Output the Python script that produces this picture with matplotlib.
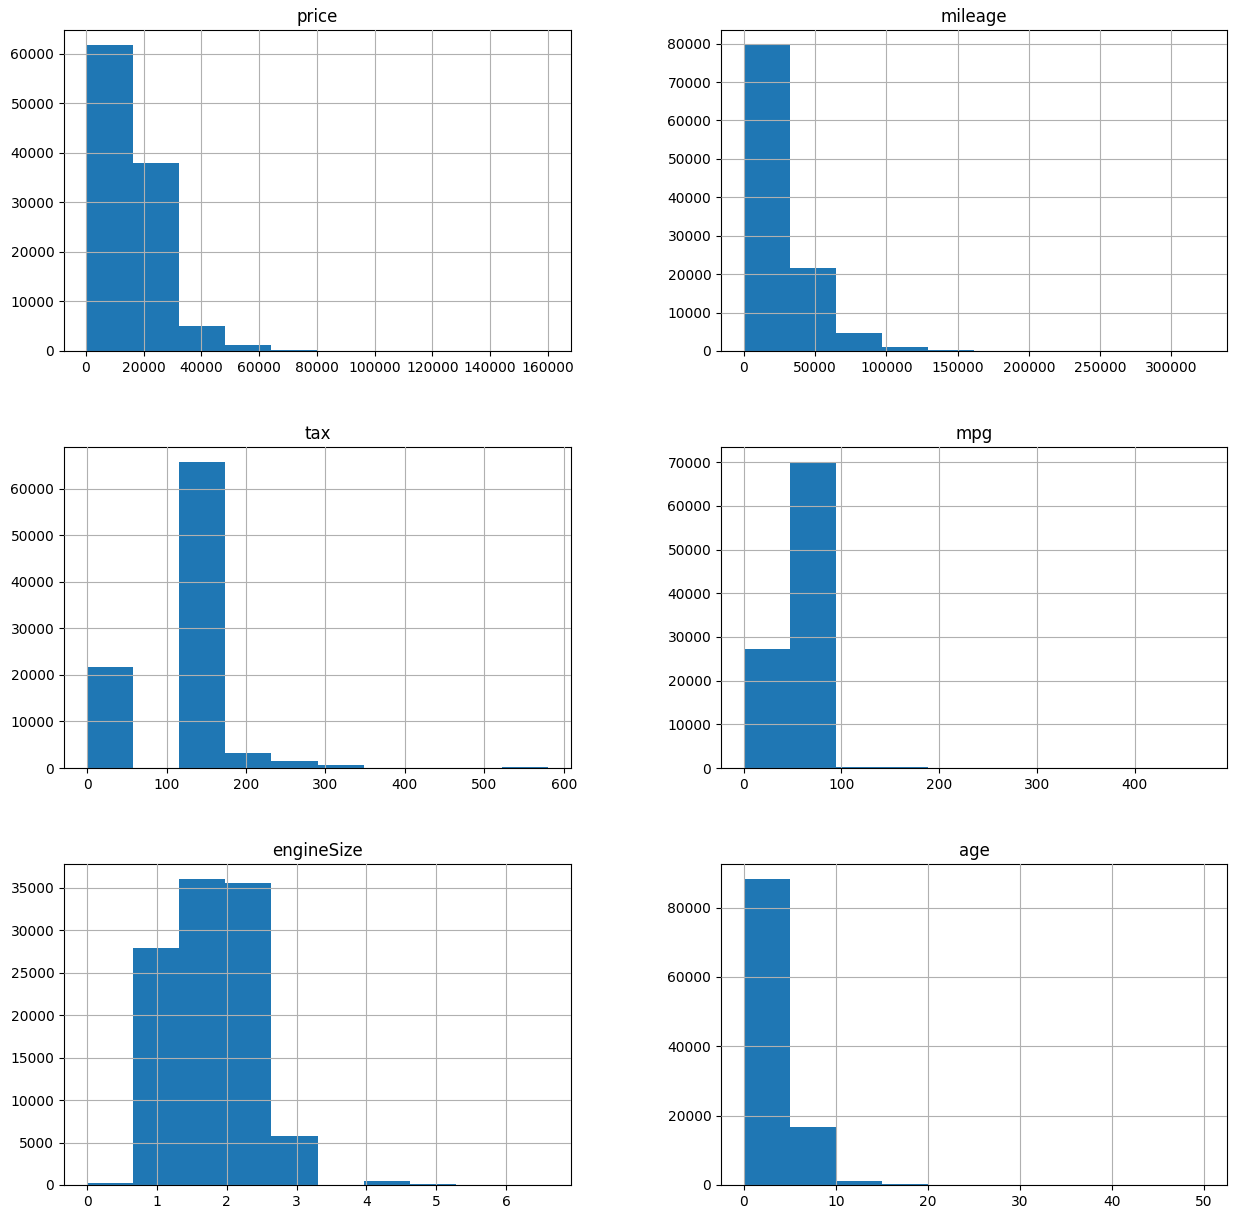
import numpy as np
import matplotlib
matplotlib.use("Agg")
import matplotlib.pyplot as plt

# ---- data ----
columns = ["price", "mileage", "tax", "mpg", "engineSize", "age"]

price_range = (450, 159999)
price_counts = [61700, 38030, 5060, 1210, 230, 45, 15, 6, 3, 1]

mileage_range = (1, 323000)
mileage_counts = [79570, 21520, 4690, 950, 260, 50, 12, 4, 2, 1]

tax_range = (0, 580)
tax_counts = [21790, 0, 65660, 3150, 1580, 720, 60, 15, 5, 290]

mpg_range = (0.3, 470.8)
mpg_counts = [27330, 70000, 260, 230, 20, 5, 2, 0, 0, 10]

engine_range = (0, 6.6)
engine_counts = [240, 27840, 35980, 35510, 5780, 0, 470, 120, 10, 5]

age_range = (0, 50)
age_counts = [88160, 16650, 1250, 385, 30, 10, 3, 1, 0, 1]

series = {
    "price": (price_range, price_counts),
    "mileage": (mileage_range, mileage_counts),
    "tax": (tax_range, tax_counts),
    "mpg": (mpg_range, mpg_counts),
    "engineSize": (engine_range, engine_counts),
    "age": (age_range, age_counts),
}

W, H = 1236, 1219
fig = plt.figure(figsize=(W / 100, H / 100), dpi=100)

lefts = [64, 721]
widths = [507, 506]
tops = [30, 447, 864]
ax_h = 321

for i, name in enumerate(columns):
    r, c = divmod(i, 2)
    rect = [lefts[c] / W, 1 - (tops[r] + ax_h) / H, widths[c] / W, ax_h / H]
    ax = fig.add_axes(rect)
    rng, counts = series[name]
    edges = np.linspace(rng[0], rng[1], len(counts) + 1)
    centers = (edges[:-1] + edges[1:]) / 2
    ax.hist(centers, bins=edges, weights=counts, color="#1f77b4")
    ax.grid(True, color="#b0b0b0", linewidth=0.8)
    ax.set_axisbelow(False)
    ax.set_title(name, fontsize=12)
    ax.tick_params(labelsize=10)

fig.savefig("out.png", dpi=100)
